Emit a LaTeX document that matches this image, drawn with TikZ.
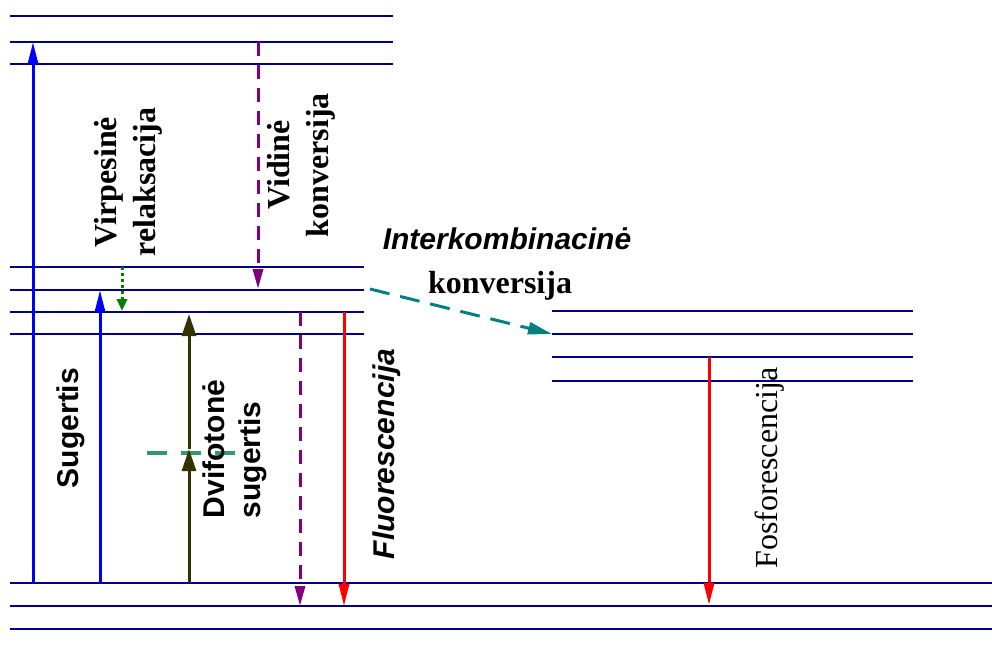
\documentclass[tikz,border=0pt]{standalone}
\usepackage{fontspec}
\setmainfont{Liberation Serif}
\setsansfont{Liberation Sans}
\usetikzlibrary{arrows.meta}
\definecolor{levelcol}{RGB}{0,0,128}
\definecolor{absblue}{RGB}{0,0,255}
\definecolor{vibgreen}{RGB}{0,128,0}
\definecolor{icpurple}{RGB}{128,0,128}
\definecolor{tpaolive}{RGB}{51,51,0}
\definecolor{virtgreen}{RGB}{51,153,102}
\definecolor{iscteal}{RGB}{0,128,128}
\definecolor{emitred}{RGB}{255,0,0}
\tikzset{
  level/.style={draw=levelcol, line width=2.7pt},
  upblue/.style={draw=absblue, line width=3pt, -{Triangle[length=22pt,width=10pt]}},
  vibrelax/.style={draw=vibgreen, line width=3pt, dash pattern=on 3pt off 3pt, -{Triangle[length=12pt,width=10pt]}},
  icdash/.style={draw=icpurple, line width=3pt, dash pattern=on 14pt off 9pt, -{Triangle[length=20pt,width=10pt]}},
  tpa/.style={draw=tpaolive, line width=3pt, -{Triangle[length=22pt,width=14pt]}},
  virtual/.style={draw=virtgreen, line width=3.5pt, dash pattern=on 20pt off 14pt},
  iscdash/.style={draw=iscteal, line width=3pt, dash pattern=on 20pt off 11pt, -{Triangle[length=24pt,width=12pt]}},
  emit/.style={draw=emitred, line width=3pt, -{Triangle[length=22pt,width=10pt]}},
  serifbold/.style={font=\fontsize{32}{39}\selectfont\bfseries, align=center, inner sep=0pt},
  sansbold/.style={font=\fontsize{30}{36}\selectfont\sffamily\bfseries, inner sep=0pt},
}
\begin{document}
\begin{tikzpicture}[x=1pt, y=-1pt]
\useasboundingbox (0,0) rectangle (992,652);

% singlet S2 vibrational levels
\foreach \yy [count=\i] in {16,42,64}
  \draw[level] (10,\yy) coordinate (stwoL\i) -- (393,\yy) coordinate (stwoR\i);
% singlet S1 vibrational levels
\foreach \yy [count=\i] in {267,290,312,334}
  \draw[level] (10,\yy) coordinate (soneL\i) -- (364,\yy) coordinate (soneR\i);
% triplet T1 vibrational levels
\foreach \yy [count=\i] in {311,334,357,381}
  \draw[level] (552,\yy) coordinate (toneL\i) -- (913,\yy) coordinate (toneR\i);
% ground state S0 vibrational levels
\foreach \yy [count=\i] in {583,606,629}
  \draw[level] (10,\yy) coordinate (szeroL\i) -- (992,\yy) coordinate (szeroR\i);

% arrow end points on the levels
\coordinate (absA0) at (33,583);  \coordinate (absA1) at (33,42);
\coordinate (absB0) at (100,583); \coordinate (absB1) at (100,290);
\coordinate (vrA) at (122,267);   \coordinate (vrB) at (122,311);
\coordinate (tpa0) at (189,583);  \coordinate (tpaMid) at (189,449); \coordinate (tpa1) at (189,314);
\coordinate (virtL) at (147,453); \coordinate (virtR) at (236,453);
\coordinate (icA) at (258,42);    \coordinate (icB) at (258,289);
\coordinate (icC) at (300,312);   \coordinate (icD) at (300,606);
\coordinate (flA) at (344,312);   \coordinate (flB) at (344,606);
\coordinate (iscA) at (370,289);  \coordinate (iscB) at (552,334);
\coordinate (phA) at (709,357);   \coordinate (phB) at (709,605);

% transitions
\draw[upblue] (absA0) -- (absA1);
\draw[upblue] (absB0) -- (absB1);
\draw[vibrelax] (vrA) -- (vrB);
\draw[virtual] (virtL) -- (virtR);
\draw[tpa] (tpa0) -- (tpaMid);
\draw[tpa] (tpaMid) -- (tpa1);
\draw[icdash] (icA) -- (icB);
\draw[icdash] (icC) -- (icD);
\draw[emit] (flA) -- (flB);
\draw[iscdash] (iscA) -- (iscB);
\draw[emit] (phA) -- (phB);

% labels
\node[serifbold, rotate=90] (vrlab) at (128,182) {Virpesinė\\relaksacija};
\node[serifbold, rotate=90] (iclab) at (301,165) {Vidinė\\konversija};
\node[sansbold, font=\fontsize{30}{36}\selectfont\sffamily\bfseries\itshape, anchor=base] (isclab1) at (507,250) {Interkombinacinė};
\node[serifbold, anchor=base] (isclab2) at (500,293) {konversija};
\node[sansbold, rotate=90] (abslab) at (71,428) {Sugertis};
\node[sansbold, rotate=90, align=left] (tpalab) at (235,449) {Dvifotonė\\sugertis};
\node[sansbold, font=\fontsize{30}{36}\selectfont\sffamily\bfseries\itshape, rotate=90] (fllab) at (387,454) {Fluorescencija};
\node[font=\fontsize{32}{38}\selectfont, inner sep=0pt, rotate=90] (phlab) at (770,468) {Fosforescencija};
\end{tikzpicture}
\end{document}
